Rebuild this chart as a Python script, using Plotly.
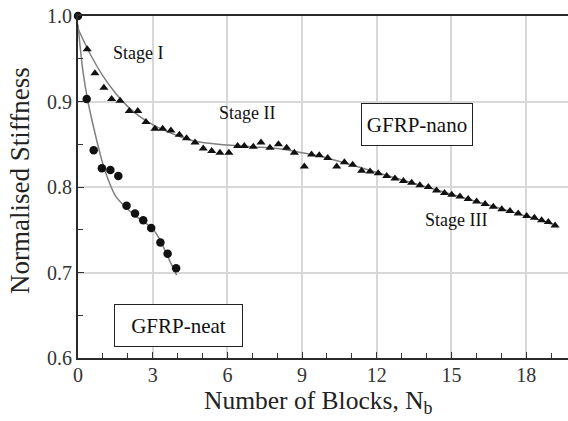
import plotly.graph_objects as go

# ---------------- data ----------------
nano_x = [0.37, 0.68, 1.04, 1.35, 1.69, 2.06, 2.40, 2.73, 3.09, 3.40, 3.73, 4.07, 4.36, 4.70,
          5.03, 5.37, 5.70, 6.06, 6.41, 6.68, 7.04, 7.35, 7.71, 8.05, 8.38, 8.69, 9.09, 9.38,
          9.69, 10.03, 10.39, 10.70, 11.03, 11.39, 11.73, 12.06, 12.40, 12.73, 13.07, 13.40,
          13.73, 14.07, 14.40, 14.72, 15.01, 15.34, 15.67, 16.01, 16.35, 16.68, 17.02, 17.35,
          17.68, 18.02, 18.33, 18.62, 18.89, 19.16]
nano_y = [0.961, 0.933, 0.916, 0.903, 0.901, 0.889, 0.889, 0.876, 0.868, 0.868, 0.866, 0.861,
          0.857, 0.852, 0.845, 0.842, 0.840, 0.840, 0.848, 0.848, 0.847, 0.852, 0.846, 0.850,
          0.846, 0.840, 0.824, 0.838, 0.837, 0.834, 0.824, 0.829, 0.826, 0.819, 0.818, 0.816,
          0.813, 0.810, 0.807, 0.805, 0.802, 0.800, 0.796, 0.793, 0.791, 0.789, 0.786, 0.783,
          0.780, 0.777, 0.774, 0.772, 0.769, 0.766, 0.764, 0.761, 0.759, 0.755]

neat_x = [0.0, 0.35, 0.63, 0.96, 1.30, 1.62, 1.95, 2.29, 2.62, 2.94, 3.31, 3.60, 3.94]
neat_y = [1.000, 0.903, 0.843, 0.822, 0.820, 0.813, 0.778, 0.769, 0.761, 0.752, 0.735, 0.722, 0.705]

nano_fit_x = [0.0, 0.5, 1.0, 1.5, 2.0, 2.5, 3.0, 3.5, 4.0, 4.5, 5.0, 6.0, 7.0, 8.0, 9.0, 10.0,
              12.0, 14.0, 16.0, 18.0, 19.2]
nano_fit_y = [0.985, 0.955, 0.930, 0.910, 0.894, 0.882, 0.873, 0.866, 0.860, 0.855, 0.852,
              0.849, 0.847, 0.845, 0.840, 0.834, 0.817, 0.800, 0.783, 0.766, 0.755]

neat_fit_x = [0.0, 0.2, 0.4, 0.65, 0.95, 1.12, 1.5, 2.0, 2.5, 3.0, 3.3, 3.55, 3.96]
neat_fit_y = [0.990, 0.935, 0.900, 0.867, 0.832, 0.816, 0.790, 0.774, 0.762, 0.751, 0.738,
              0.722, 0.697]

x_ticks = [0, 3, 6, 9, 12, 15, 18]
y_ticks = [0.6, 0.7, 0.8, 0.9, 1.0]

FONT = "Times New Roman, Liberation Serif, DejaVu Serif, serif"

fig = go.Figure()

fig.add_trace(go.Scatter(x=nano_fit_x, y=nano_fit_y, mode="lines",
                         line=dict(color="#808080", width=1.5, shape="spline"),
                         showlegend=False, hoverinfo="skip"))
fig.add_trace(go.Scatter(x=neat_fit_x, y=neat_fit_y, mode="lines",
                         line=dict(color="#808080", width=1.5, shape="spline"),
                         showlegend=False, hoverinfo="skip"))
fig.add_trace(go.Scatter(x=nano_x, y=nano_y, mode="markers", name="GFRP-nano",
                         marker=dict(symbol="triangle-up", size=8, color="#111"),
                         showlegend=False, cliponaxis=False))
fig.add_trace(go.Scatter(x=neat_x, y=neat_y, mode="markers", name="GFRP-neat",
                         marker=dict(symbol="circle", size=8.5, color="#111"),
                         showlegend=False, cliponaxis=False))

annots = [
    dict(x=2.42, y=0.957, text="Stage I"),
    dict(x=6.78, y=0.886, text="Stage II"),
    dict(x=15.2, y=0.761, text="Stage III"),
]
for a in annots:
    fig.add_annotation(x=a["x"], y=a["y"], xref="x", yref="y", text=a["text"],
                       showarrow=False, font=dict(family=FONT, size=18, color="#111"))

fig.add_annotation(x=13.61, y=0.8735, xref="x", yref="y", text="GFRP-nano", showarrow=False,
                   font=dict(family=FONT, size=21, color="#111"), bgcolor="white",
                   bordercolor="#222", borderwidth=1, borderpad=0, width=110, height=41)
fig.add_annotation(x=4.04, y=0.638, xref="x", yref="y", text="GFRP-neat", showarrow=False,
                   font=dict(family=FONT, size=21, color="#111"), bgcolor="white",
                   bordercolor="#222", borderwidth=1, borderpad=0, width=127, height=41)

# axis titles
fig.add_annotation(x=0.49, y=-0.13, xref="paper", yref="paper", xanchor="center",
                   yanchor="middle", text="Number of Blocks, N<sub>b</sub>", showarrow=False,
                   font=dict(family=FONT, size=25.5, color="#222"))
fig.add_annotation(x=-0.118, y=0.518, xref="paper", yref="paper", xanchor="center",
                   yanchor="middle", text="Normalised Stiffness", textangle=-90,
                   showarrow=False, font=dict(family=FONT, size=27, color="#222"))

fig.update_layout(
    width=568, height=421,
    margin=dict(l=78, r=0, t=16, b=63, pad=0),
    paper_bgcolor="white", plot_bgcolor="white",
    font=dict(family=FONT, color="#222"),
)
fig.update_xaxes(range=[0, 19.68], tickvals=x_ticks, ticktext=[str(v) for v in x_ticks],
                 showline=True, linecolor="#2a2a2a", linewidth=2, mirror=True,
                 ticks="inside", ticklen=6, tickcolor="#333", tickwidth=1.2,
                 showgrid=True, gridcolor="#d8d8d8", gridwidth=1.5, zeroline=False,
                 ticklabelstandoff=-2,
                 tickfont=dict(family=FONT, size=20, color="#333"),
                 minor=dict(dtick=1, ticks="inside", ticklen=5, tickcolor="#333",
                            tickwidth=1.2, showgrid=False))
fig.update_yaxes(range=[0.6, 1.0], tickvals=y_ticks, ticktext=[f"{v:.1f}" for v in y_ticks],
                 showline=True, linecolor="#2a2a2a", linewidth=2, mirror=False,
                 ticks="inside", ticklen=6, tickcolor="#333", tickwidth=1.2,
                 showgrid=True, gridcolor="#d8d8d8", gridwidth=1.5, zeroline=False,
                 tickfont=dict(family=FONT, size=20, color="#333"),
                 minor=dict(dtick=0.05, ticks="inside", ticklen=5, tickcolor="#333",
                            tickwidth=1.2, showgrid=False))

fig.write_html("out.html")
